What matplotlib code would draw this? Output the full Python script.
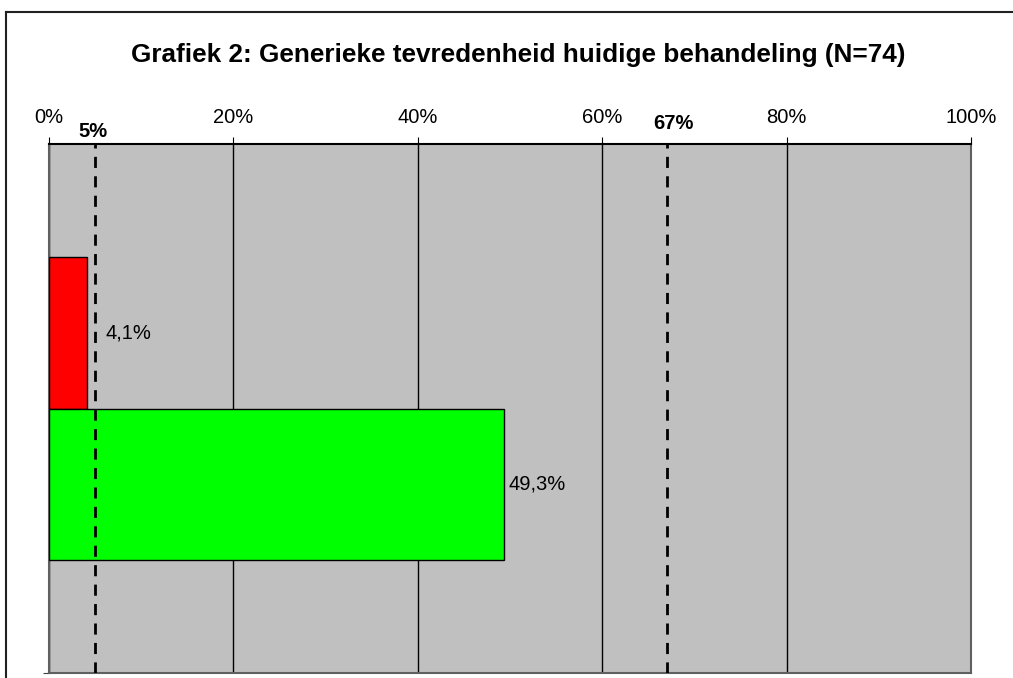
import matplotlib.pyplot as plt
from matplotlib.lines import Line2D

plt.rcParams['font.family'] = ['Liberation Sans', 'DejaVu Sans']

# data
categories = ['ontevreden', 'tevreden']
values = [4.1, 49.3]
bar_colors = ['#ff0000', '#00ff00']
value_labels = ['4,1%', '49,3%']
ref_values = [5, 67]
ref_labels = ['5%', '67%']
xticks = [0, 20, 40, 60, 80, 100]
xtick_labels = ['0%', '20%', '40%', '60%', '80%', '100%']
title = 'Grafiek 2: Generieke tevredenheid huidige behandeling (N=74)'

fig = plt.figure(figsize=(10.13, 6.78), dpi=100)
ax = fig.add_axes([49 / 1013, 1 - 673 / 678, 922 / 1013, 529 / 678])
ax.set_facecolor('#c0c0c0')

ypos = [1, 0]
ax.barh(ypos, values, height=1.0, color=bar_colors, edgecolor='black',
        linewidth=1, zorder=3)
# label offsets in points (excel put the small one further out)
label_dx = [13.5, 3.5]
for y, v, lab, dx in zip(ypos, values, value_labels, label_dx):
    ax.annotate(lab, (v, y), xytext=(dx, 0), textcoords='offset points',
                va='center', ha='left', fontsize=14.5, zorder=4)

ref_offsets = [(-1.5, 2.5), (4.5, 8)]
for v, lab, off in zip(ref_values, ref_labels, ref_offsets):
    ax.axvline(v, color='black', linestyle=(0, (4, 3)), linewidth=2, zorder=5)
    ax.annotate(lab, (v, 1.0), xycoords=('data', 'axes fraction'),
                xytext=off, textcoords='offset points', ha='center',
                va='bottom', fontsize=14.5, fontweight='bold')

ax.set_xlim(0, 100)
ax.set_ylim(-1.25, 2.25)
ax.xaxis.tick_top()
ax.set_xticks(xticks)
ax.set_xticklabels(xtick_labels, fontsize=14.5)
ax.tick_params(axis='x', length=5, pad=7, color='black')
ax.set_yticks([-1.25])
ax.set_yticklabels([])
ax.tick_params(axis='y', length=4, color='#404040')
ax.grid(axis='x', color='black', linewidth=1, zorder=1)
ax.set_axisbelow(True)
for s in ['left', 'right', 'bottom']:
    ax.spines[s].set_color('#606060')
    ax.spines[s].set_linewidth(1.5)
ax.spines['top'].set_color('black')
ax.spines['top'].set_linewidth(1.5)

fig.text(518 / 1013, 1 - 55 / 678, title, ha='center', va='center',
         fontsize=18.8, fontweight='bold')

# outer frame of the chart
fig.add_artist(Line2D([6 / 1013, 1], [1 - 12 / 678] * 2, color='#202020',
                      linewidth=1.5, transform=fig.transFigure))
fig.add_artist(Line2D([6 / 1013] * 2, [0, 1 - 12 / 678], color='#202020',
                      linewidth=1.5, transform=fig.transFigure))

fig.savefig('out.png', dpi=100)
